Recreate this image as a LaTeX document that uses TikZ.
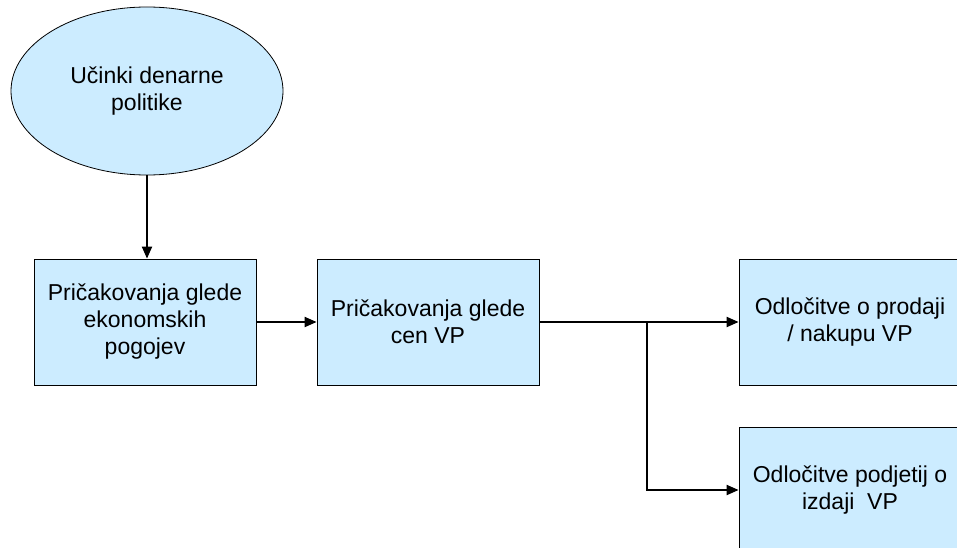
\documentclass[tikz,border=0pt]{standalone}
\usepackage{fontspec}
\setmainfont{Liberation Sans}
\usetikzlibrary{shapes.geometric,arrows.meta}
\definecolor{boxblue}{HTML}{CCECFF}
\tikzset{
  korak/.style  = {rectangle, draw, line width=0.8pt, fill=boxblue, minimum width=222pt, minimum height=126pt, align=center, font=\fontsize{23}{27}\selectfont},
  ucinek/.style = {ellipse, draw, line width=0.8pt, fill=boxblue, minimum width=272pt, minimum height=168pt, align=center, font=\fontsize{23}{27}\selectfont},
  pot/.style    = {line width=2pt, -{Triangle[length=12pt,width=10pt]}}
}

\begin{document}
\begin{tikzpicture}[x=1pt,y=-1pt]
  \useasboundingbox (0,0) rectangle (957,548);
  \clip (0,0) rectangle (957,548);
  \node[ucinek] (uc) at (147,91) {Učinki denarne\\politike};
  \node[korak] (pe) at (145,322) {Pričakovanja glede\\ekonomskih\\pogojev};
  \node[korak] (pc) at (428,322) {Pričakovanja glede\\cen VP};
  \node[korak] (op) at (850,322) {Odločitve o prodaji\\/ nakupu VP};
  \node[korak] (oi) at (850,490) {Odločitve podjetij o\\izdaji\ \ VP};
  \coordinate (raz) at (647,322);
  \draw[pot] (uc.south) -- (uc.south |- pe.north);
  \draw[pot] (pe) -- (pc);
  \draw[pot] (pc) -- (op);
  \draw[pot] (raz) |- (oi.west);
\end{tikzpicture}
\end{document}
